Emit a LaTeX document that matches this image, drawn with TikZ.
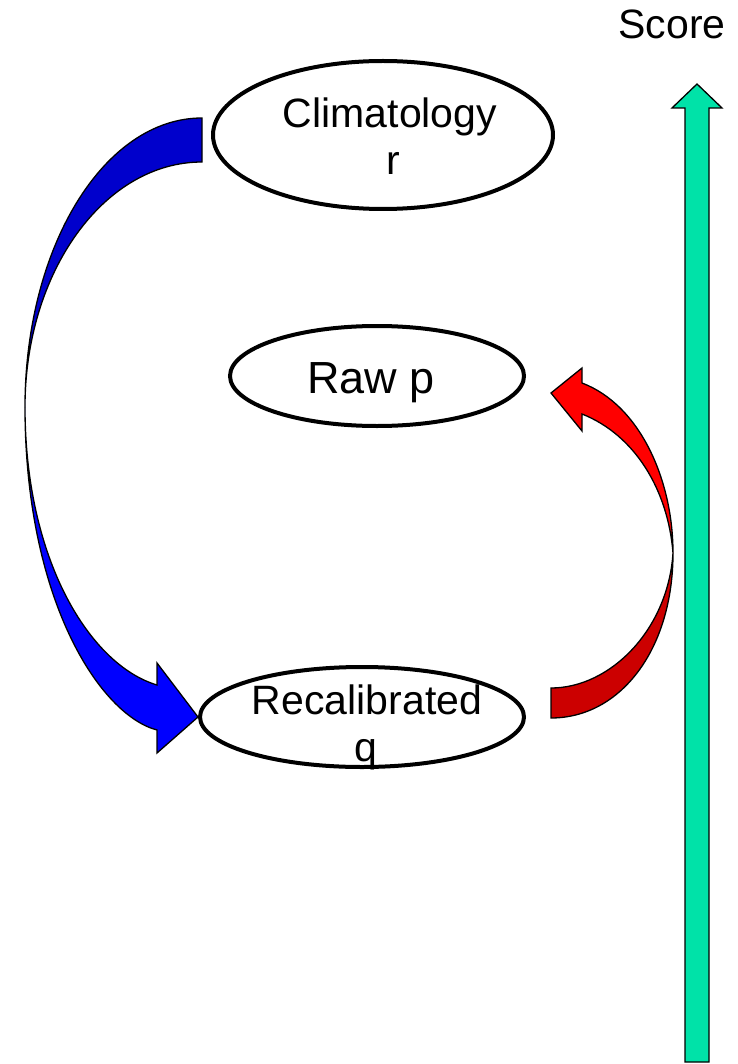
\documentclass[tikz,border=0pt]{standalone}
\usepackage{fontspec}
\setmainfont{Liberation Sans}
\usetikzlibrary{shapes.geometric}
\definecolor{bluedark}{RGB}{0,0,204}
\definecolor{bluebright}{RGB}{0,0,255}
\definecolor{reddark}{RGB}{204,0,0}
\definecolor{redbright}{RGB}{255,0,0}
\definecolor{scoregreen}{RGB}{0,226,168}
\begin{document}
\begin{tikzpicture}[x=1pt,y=-1pt,
  ell/.style={draw=black,line width=4pt,ellipse,inner sep=0pt,fill=white},
  lbl/.style={anchor=base,inner sep=0pt,font=\fontsize{41}{47}\selectfont},
  blockarrow/.style={draw=black,line width=1.3pt,line join=miter}]
\useasboundingbox (0,0) rectangle (737,1064);
% nodes
\node[ell,minimum width=340pt,minimum height=148pt] (clim) at (383,135) {};
\node[ell,minimum width=294pt,minimum height=100pt] (raw) at (377,376) {};
\node[ell,minimum width=324pt,minimum height=100pt] (recal) at (362,717) {};
\node[lbl] (climA) at (390,128) {Climatology};
\node[lbl] (climB) at (393,175) {r};
\node[lbl,font=\fontsize{45}{50}\selectfont] (rawt) at (371,393) {Raw p};
\node[lbl] (recalA) at (367,714) {Recalibrated};
\node[lbl] (recalB) at (366,761) {q};
\node[lbl] (score) at (672,39) {Score};
% blue curved arrow (climatology -> recalibrated)
\fill[bluedark,blockarrow] (202,118) .. controls (104,118) and (25,247) .. (25,407)
   .. controls (25,272) and (104,162) .. (202,162) -- cycle;
\fill[bluebright,blockarrow] (25,407) .. controls (25,600) and (100,715) .. (157,730)
   -- (157,753) -- (recal.west) -- (157,663) -- (157,685)
   .. controls (90,665) and (25,560) .. (25,407) -- cycle;
% red curved arrow (recalibrated -> raw)
\fill[reddark,blockarrow] (551,688) .. controls (610,688) and (668,630) .. (673,553)
   .. controls (673,650) and (620,718) .. (551,718) -- cycle;
\fill[redbright,blockarrow] (673,553) .. controls (673,480) and (640,405) .. (582,383)
   -- (582,368) -- (551,393) -- (582,431) -- (582,414)
   .. controls (635,435) and (668,490) .. (673,553) -- cycle;
% score arrow
\fill[scoregreen,blockarrow] (685,1062) -- (685,108) -- (672,108) -- (697,84)
   -- (722,108) -- (709,108) -- (709,1062) -- cycle;
\end{tikzpicture}
\end{document}
